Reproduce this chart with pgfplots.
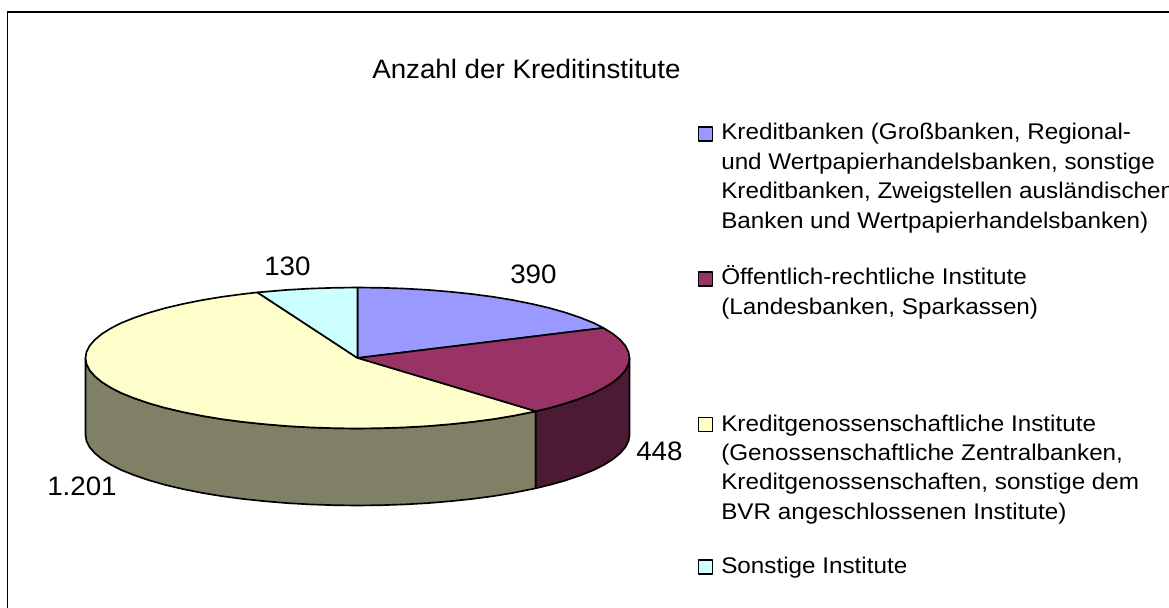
\documentclass[border=0pt]{standalone}
\usepackage{fontspec}
\usepackage{pgfplots}
\pgfplotsset{compat=1.18}
\setmainfont{Liberation Sans}
\newfontfamily\legfont[FakeStretch=1.07]{Liberation Sans}
\newfontfamily\bigfont[FakeStretch=1.04]{Liberation Sans}

% 1 axis unit = 1 px of the reference = 0.75pt, origin at the pie centre
\definecolor{cBlue}{HTML}{9999FF}
\definecolor{cMaroon}{HTML}{993366}
\definecolor{cYellow}{HTML}{FFFFCC}
\definecolor{cCyan}{HTML}{CCFFFF}
\definecolor{cYellowSide}{HTML}{808066}
\definecolor{cMaroonSide}{HTML}{4D1A33}

\newcommand{\legtext}[3]{\node[anchor=base west,inner sep=0pt,font=\legfont\fontsize{17}{20}\selectfont] at (axis cs:#1,#2) {#3};}
\newcommand{\bigtext}[3]{\node[anchor=base west,inner sep=0pt,font=\bigfont\fontsize{20}{24}\selectfont] at (axis cs:#1,#2) {#3};}

\begin{document}
\begin{tikzpicture}
\useasboundingbox (0,0) rectangle (876.75pt,455.25pt);
\clip (0,0) rectangle (876.75pt,455.25pt);
\begin{axis}[
    at={(0,0)}, anchor=south west,
    scale only axis, width=876.75pt, height=455.25pt,
    xmin=-357.5, xmax=811.5, ymin=-249, ymax=358,
    hide axis, clip=false,
    every axis plot/.append style={line width=1.25pt, line join=round},
]
% chart frame, only left and top edges fall inside the picture
\draw[black, line width=1.4pt] (axis cs:-350,-260) -- (axis cs:-350,346) -- (axis cs:830,346);

% side walls
\addplot[fill=cYellowSide, draw=black] coordinates {
 (178.2,-53.3) (174.8,-54) (156,-57.8) (136,-61.1) (115,-63.9) (93,-66.2) (70.4,-68.1) (47.2,-69.4) (23.7,-70.2) (0,-70.5)
 (-23.7,-70.2) (-47.2,-69.4) (-70.4,-68.1) (-93,-66.2) (-115,-63.9) (-136,-61.1) (-156,-57.8) (-174.8,-54) (-192.3,-49.9)
 (-208.4,-45.3) (-222.8,-40.4) (-235.6,-35.3) (-246.5,-29.8) (-255.6,-24.1) (-262.7,-18.2) (-267.9,-12.2) (-271,-6.1) (-272,0)
 (-272,-77) (-271,-83.1) (-267.9,-89.2) (-262.7,-95.2) (-255.6,-101.1) (-246.5,-106.8) (-235.6,-112.3) (-222.8,-117.4)
 (-208.4,-122.3) (-192.3,-126.9) (-174.8,-131) (-156,-134.8) (-136,-138.1) (-115,-140.9) (-93,-143.2) (-70.4,-145.1)
 (-47.2,-146.4) (-23.7,-147.2) (0,-147.5) (23.7,-147.2) (47.2,-146.4) (70.4,-145.1) (93,-143.2) (115,-140.9) (136,-138.1)
 (156,-134.8) (174.8,-131) (178.2,-130.3)
} --cycle;
\addplot[fill=cMaroonSide, draw=black] coordinates {
 (272,0) (271,-6.1) (267.9,-12.2) (262.7,-18.2) (255.6,-24.1) (246.5,-29.8) (235.6,-35.3) (222.8,-40.4) (208.4,-45.3)
 (192.3,-49.9) (178.2,-53.3) (178.2,-130.3) (192.3,-126.9) (208.4,-122.3) (222.8,-117.4) (235.6,-112.3) (246.5,-106.8)
 (255.6,-101.1) (262.7,-95.2) (267.9,-89.2) (271,-83.1) (272,-77)
} --cycle;

% top slices: 390, 448, 1201, 130 clockwise from 12 o'clock
\addplot[fill=cBlue, draw=black] coordinates {
 (0,0) (0,70.5) (23.7,70.2) (47.2,69.4) (70.4,68.1) (93,66.2) (115,63.9) (136,61.1) (156,57.8) (174.8,54) (192.3,49.9)
 (208.4,45.3) (222.8,40.4) (235.6,35.3) (245.9,30.1)
} --cycle;
\addplot[fill=cMaroon, draw=black] coordinates {
 (0,0) (245.9,30.1) (255.6,24.1) (262.7,18.2) (267.9,12.2) (271,6.1) (272,0) (271,-6.1) (267.9,-12.2) (262.7,-18.2)
 (255.6,-24.1) (246.5,-29.8) (235.6,-35.3) (222.8,-40.4) (208.4,-45.3) (192.3,-49.9) (178.2,-53.3)
} --cycle;
\addplot[fill=cYellow, draw=black] coordinates {
 (0,0) (178.2,-53.3) (174.8,-54) (156,-57.8) (136,-61.1) (115,-63.9) (93,-66.2) (70.4,-68.1) (47.2,-69.4) (23.7,-70.2) (0,-70.5)
 (-23.7,-70.2) (-47.2,-69.4) (-70.4,-68.1) (-93,-66.2) (-115,-63.9) (-136,-61.1) (-156,-57.8) (-174.8,-54) (-192.3,-49.9)
 (-208.4,-45.3) (-222.8,-40.4) (-235.6,-35.3) (-246.5,-29.8) (-255.6,-24.1) (-262.7,-18.2) (-267.9,-12.2) (-271,-6.1) (-272,0)
 (-271,6.1) (-267.9,12.2) (-262.7,18.2) (-255.6,24.1) (-246.5,29.8) (-235.6,35.3) (-222.8,40.4) (-208.4,45.3) (-192.3,49.9)
 (-174.8,54) (-156,57.8) (-136,61.1) (-115,63.9) (-100.1,65.6)
} --cycle;
\addplot[fill=cCyan, draw=black] coordinates {
 (0,0) (-100.1,65.6) (-93,66.2) (-70.4,68.1) (-47.2,69.4) (-23.7,70.2) (0,70.5)
} --cycle;

% legend swatches
\addplot[only marks, mark=square*, mark size=5.2pt, mark options={fill=cBlue, draw=black, line width=1.1pt}] coordinates {(347.8,224)};
\addplot[only marks, mark=square*, mark size=5.2pt, mark options={fill=cMaroon, draw=black, line width=1.1pt}] coordinates {(347.8,79)};
\addplot[only marks, mark=square*, mark size=5.2pt, mark options={fill=cYellow, draw=black, line width=1.1pt}] coordinates {(347.8,-66.5)};
\addplot[only marks, mark=square*, mark size=5.2pt, mark options={fill=cCyan, draw=black, line width=1.1pt}] coordinates {(347.8,-209)};

% title and value labels
\bigtext{14.5}{279}{Anzahl der Kreditinstitute}
\bigtext{152.5}{74}{390}
\bigtext{-93.5}{82.5}{130}
\bigtext{278.5}{-102}{448}
\bigtext{-310.5}{-137}{1.201}

% legend text
\legtext{363.5}{218}{Kreditbanken (Großbanken, Regional-}
\legtext{363.5}{188}{und Wertpapierhandelsbanken, sonstige}
\legtext{363.5}{159}{Kreditbanken, Zweigstellen ausländischen}
\legtext{363.5}{129}{Banken und Wertpapierhandelsbanken)}
\legtext{363.5}{73}{Öffentlich-rechtliche Institute}
\legtext{363.5}{43}{(Landesbanken, Sparkassen)}
\legtext{363.5}{-73}{Kreditgenossenschaftliche Institute}
\legtext{363.5}{-102}{(Genossenschaftliche Zentralbanken,}
\legtext{363.5}{-131}{Kreditgenossenschaften, sonstige dem}
\legtext{363.5}{-161}{BVR angeschlossenen Institute)}
\legtext{363.5}{-215}{Sonstige Institute}
\end{axis}
\end{tikzpicture}
\end{document}
